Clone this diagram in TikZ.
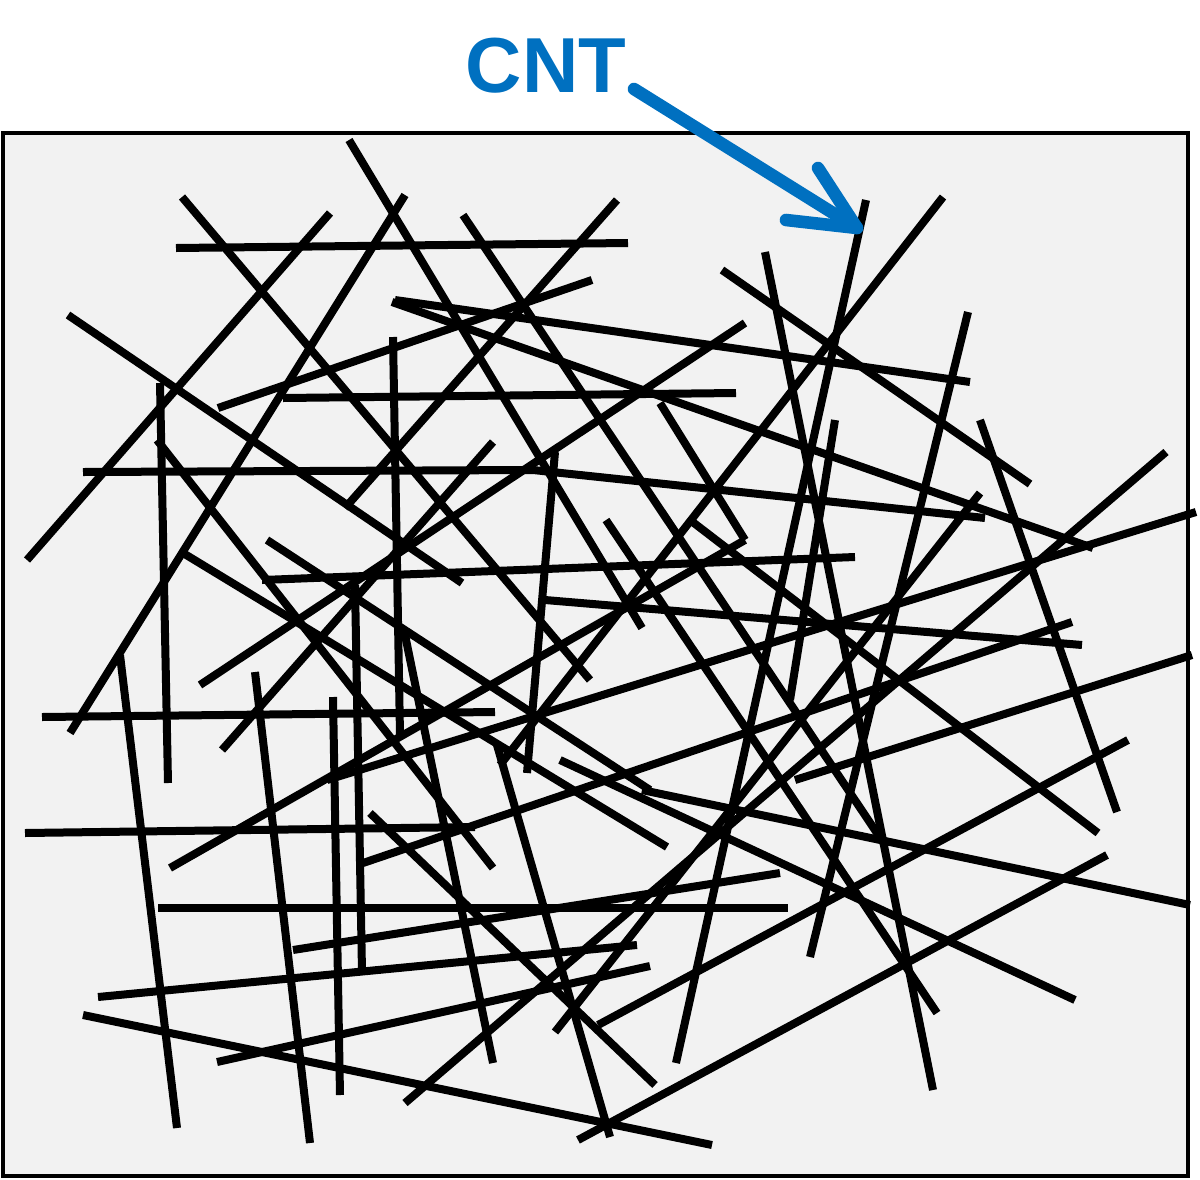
\documentclass[tikz,border=0pt]{standalone}
\usepackage{fontspec}
\setmainfont{Liberation Sans}
\definecolor{cntblue}{HTML}{0070C0}
\definecolor{panel}{HTML}{F2F2F2}
\begin{document}
\begin{tikzpicture}[x=0.5pt,y=-0.5pt,
  tube/.style={line width=4pt, black},
  frame/.style={draw=black, fill=panel, line width=1.6pt},
  pointer/.style={draw=cntblue, line width=6.3pt, line cap=round, line join=round},
  tag/.style={font=\bfseries\fontsize{39}{39}\selectfont, text=cntblue, inner sep=0pt}]
\useasboundingbox (0,0) rectangle (1200,1179);
\path[frame] (3,133) rectangle (1188,1176);
\foreach \a/\b/\c/\d in {
 176/248/628/243, 182/197/590/680, 330/213/27/560, 405/195/70/733,
 349/140/642/628, 68/315/462/583, 218/408/592/280, 617/200/345/508,
 463/215/885/845, 395/300/970/382, 392/302/1093/548, 745/323/200/685,
 393/337/400/735, 160/383/168/783, 283/398/736/393, 157/440/493/868,
 722/270/1030/484, 765/252/933/1090, 866/200/676/1063, 943/197/500/765,
 555/452/527/773, 968/312/810/957, 980/420/1117/812, 1166/452/405/1103,
 980/493/555/1032, 1196/512/327/780, 660/403/745/540, 606/520/937/1013,
 493/442/222/750, 262/580/855/557, 267/540/650/790, 183/553/667/847,
 42/717/495/712, 25/833/475/827, 120/655/177/1128, 255/672/310/1143,
 333/697/340/1095, 355/585/362/972, 158/908/788/908, 98/997/637/945,
 293/950/780/873, 217/1062/650/966, 83/1015/712/1145, 578/1140/1107/855,
 497/745/610/1137, 370/813/655/1085, 404/630/493/1063, 642/790/1190/905,
 795/780/1192/655, 560/760/1075/1000, 1128/740/598/1025, 545/600/1082/645,
 363/863/1072/622, 690/520/1098/833, 835/420/790/700, 170/868/745/540}
  \draw[tube] (\a,\b) -- (\c,\d);
\draw[tube] (83,472) -- (533,470) -- (985,518);
\node[tag] (label) at (546,66) {CNT};
\coordinate (tail) at (634,89);
\coordinate (tip) at (857,228);
\draw[pointer] (tail) -- (tip);
\draw[pointer] (786,220) -- (tip) -- (818,168);
\end{tikzpicture}
\end{document}
